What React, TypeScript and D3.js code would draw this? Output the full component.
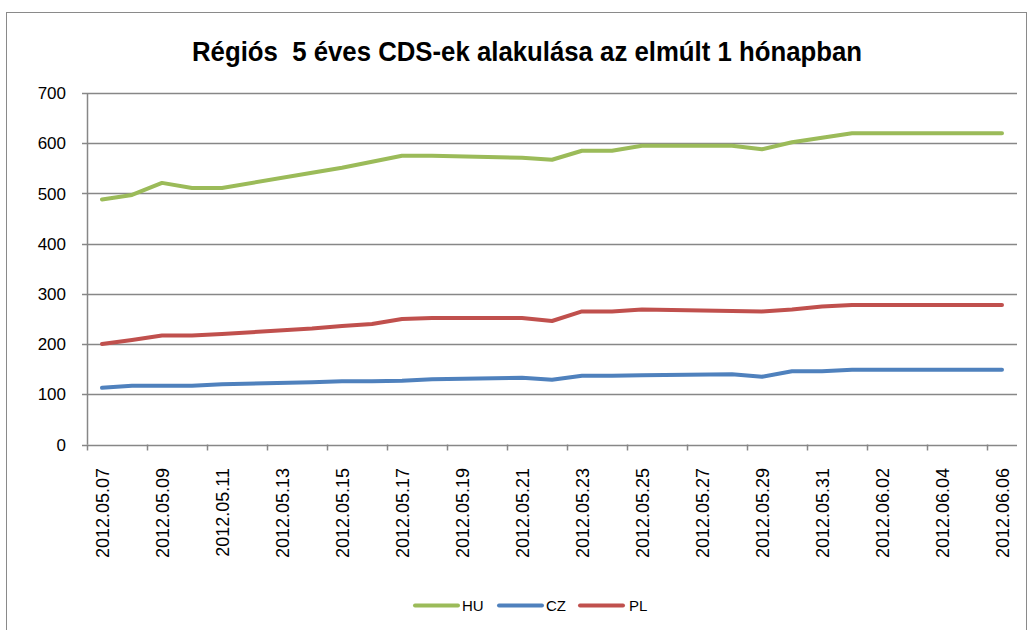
import * as d3 from "d3";

const dates = [
  "2012-05-07", "2012-05-08", "2012-05-09", "2012-05-10", "2012-05-11",
  "2012-05-14", "2012-05-15", "2012-05-16", "2012-05-17", "2012-05-18",
  "2012-05-21", "2012-05-22", "2012-05-23", "2012-05-24", "2012-05-25",
  "2012-05-28", "2012-05-29", "2012-05-30", "2012-05-31", "2012-06-01",
  "2012-06-04", "2012-06-05", "2012-06-06",
];

const huValues = [488, 497, 521, 511, 511, 541, 551, 563, 575, 575, 571, 567, 585, 585, 595, 595, 588, 602, 611, 620, 620, 620, 620];
const czValues = [113, 117, 117, 117, 120, 124, 126, 126, 127, 130, 133, 129, 137, 137, 138, 140, 135, 146, 146, 149, 149, 149, 149];
const plValues = [200, 208, 217, 217, 220, 231, 236, 240, 250, 252, 252, 246, 265, 265, 269, 266, 265, 269, 275, 278, 278, 278, 278];

const tickLabels = [
  "2012.05.07", "2012.05.09", "2012.05.11", "2012.05.13", "2012.05.15", "2012.05.17",
  "2012.05.19", "2012.05.21", "2012.05.23", "2012.05.25", "2012.05.27", "2012.05.29",
  "2012.05.31", "2012.06.02", "2012.06.04", "2012.06.06",
];

const yTicks = [0, 100, 200, 300, 400, 500, 600, 700];

const series = [
  { name: "HU", values: huValues, color: "#9BBB59" },
  { name: "CZ", values: czValues, color: "#4F81BD" },
  { name: "PL", values: plValues, color: "#C0504D" },
];

const W = 1032;
const H = 630;
const plot = { left: 87, right: 1017, top: 93, bottom: 444.5 };
const HALF_DAY = 12 * 3600 * 1000;
const parse = (s: string) => new Date(s + "T00:00:00Z");
const parseLabel = (s: string) => new Date(s.replace(/\./g, "-") + "T00:00:00Z");

export default function App() {
  const x = d3
    .scaleUtc()
    .domain([new Date(+parse("2012-05-07") - HALF_DAY), new Date(+parse("2012-06-06") + HALF_DAY)])
    .range([plot.left, plot.right]);
  const y = d3.scaleLinear().domain([0, 700]).range([plot.bottom, plot.top]);

  const line = d3
    .line<[Date, number]>()
    .x((d) => x(d[0]))
    .y((d) => y(d[1]));

  const font = "'Liberation Sans', Arial, sans-serif";
  const grid = "#878787";

  // legend positions (line start, text x)
  const legendItems = [
    { x0: 415, tx: 462 },
    { x0: 499, tx: 546 },
    { x0: 580, tx: 629 },
  ];

  return (
    <svg width={W} height={H} style={{ position: "absolute", left: 0, top: 0 }} fontFamily={font}>
      <rect x={0} y={0} width={W} height={H} fill="#fff" />
      <rect x={6.5} y={12.5} width={1020} height={640} fill="none" stroke="#8a8a8a" strokeWidth={1} />
      <text
        x={527}
        y={61}
        textAnchor="middle"
        fontSize={27}
        fontWeight="bold"
        textLength={670}
        lengthAdjust="spacingAndGlyphs"
        fill="#000"
        style={{ whiteSpace: "pre" }}
      >
        {"Régiós  5 éves CDS-ek alakulása az elmúlt 1 hónapban"}
      </text>

      {yTicks.map((t) => (
        <g key={t}>
          <line x1={plot.left - 5} x2={plot.right} y1={Math.round(y(t)) + 0.5} y2={Math.round(y(t)) + 0.5} stroke={grid} strokeWidth={1.5} />
          <text x={66} y={y(t)} dy="0.36em" textAnchor="end" fontSize={17} fill="#000">
            {t}
          </text>
        </g>
      ))}
      <line x1={plot.left + 0.5} x2={plot.left + 0.5} y1={plot.top} y2={plot.bottom} stroke={grid} strokeWidth={1.5} />

      {tickLabels.map((lab) => {
        const d = parseLabel(lab);
        const tx = x(new Date(+d - HALF_DAY));
        const cx = x(d);
        return (
          <g key={lab}>
            <line x1={tx + 0.5} x2={tx + 0.5} y1={plot.bottom} y2={plot.bottom + 6} stroke={grid} strokeWidth={1.5} />
            <text
              transform={`translate(${cx + 6.5},468) rotate(-90)`}
              textAnchor="end"
              fontSize={18}
              fill="#000"
            >
              {lab}
            </text>
          </g>
        );
      })}

      {series.map((s) => (
        <path
          key={s.name}
          d={line(dates.map((d, i) => [parse(d), s.values[i]] as [Date, number])) || ""}
          fill="none"
          stroke={s.color}
          strokeWidth={4}
          strokeLinejoin="round"
          strokeLinecap="round"
        />
      ))}

      {series.map((s, i) => (
        <g key={s.name}>
          <line x1={legendItems[i].x0} x2={legendItems[i].x0 + 43} y1={605.5} y2={605.5} stroke={s.color} strokeWidth={4} strokeLinecap="round" />
          <text x={legendItems[i].tx} y={605.5} dy="0.36em" fontSize={15} fill="#000">
            {s.name}
          </text>
        </g>
      ))}
    </svg>
  );
}
